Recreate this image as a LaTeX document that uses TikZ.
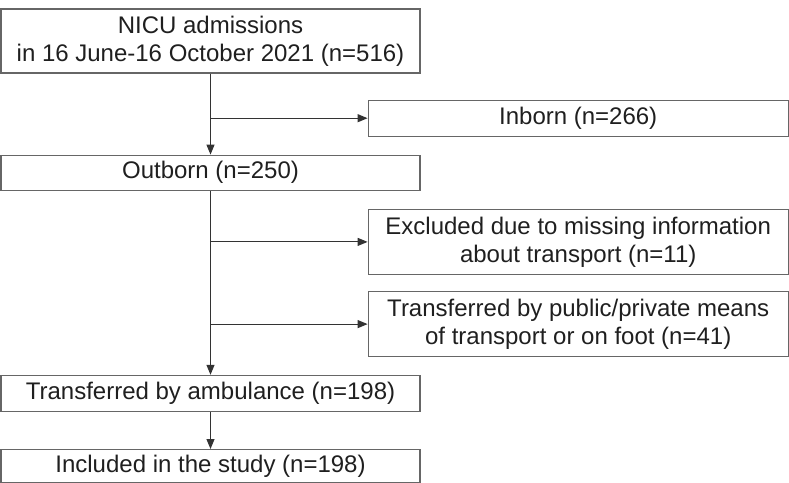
\documentclass[tikz,border=0pt]{standalone}
\usepackage{fontspec}
\setmainfont{Liberation Sans}
\usepackage{tikz}
\usetikzlibrary{positioning, arrows.meta}

\begin{document}
\begin{tikzpicture}[x=1pt, y=-1pt,
                        leftbox/.style={rectangle, draw=black!60, line width=1.2pt, text=black!88, minimum width=419pt, inner sep=0pt, align=center, font=\fontsize{24}{28}\selectfont},
                        rightbox/.style={rectangle, draw=black!60, line width=1.2pt, text=black!88, minimum width=420pt, inner sep=0pt, align=center, font=\fontsize{24}{28}\selectfont},
                        flow/.style={-{Triangle[length=10pt, width=8pt]}, line width=1.1pt, draw=black!80},
                        ]
        \useasboundingbox (0,0) rectangle (789,482);
        %Nodes
        \node[leftbox, minimum height=64pt]   (admit)     at (210.5,41)     {NICU admissions\\in 16 June-16 October 2021 (n=516)};
        \node[rightbox, minimum height=36pt]  (inborn)    [below right=26pt and -53pt of admit.south east]    {Inborn (n=266)};
        \node[leftbox, minimum height=35pt]   (outborn)   [below=81pt of admit]      {Outborn (n=250)};
        \node[rightbox, minimum height=65pt]  (excluded)  [below right=18pt and -53pt of outborn.south east]  {Excluded due to missing information\\about transport (n=11)};
        \node[rightbox, minimum height=65pt]  (public)    [below=16pt of excluded]   {Transferred by public/private means\\of transport or on foot (n=41)};
        \node[leftbox, minimum height=36pt]   (ambulance) [below=184pt of outborn]   {Transferred by ambulance (n=198)};
        \node[leftbox, minimum height=33pt]   (included)  [below=37pt of ambulance]  {Included in the study (n=198)};

        %Lines
        \draw[flow] (admit.south)  to  (outborn.north);
        \draw[flow] (admit.south |- inborn.west)  to  (inborn.west);

        \draw[flow] (outborn.south)  to  (ambulance.north);
        \draw[flow] (outborn.south |- excluded.west)  to  (excluded.west);
        \draw[flow] (outborn.south |- public.west)  to  (public.west);

        \draw[flow] (ambulance.south)  to  (included.north);
    \end{tikzpicture}
\end{document}
